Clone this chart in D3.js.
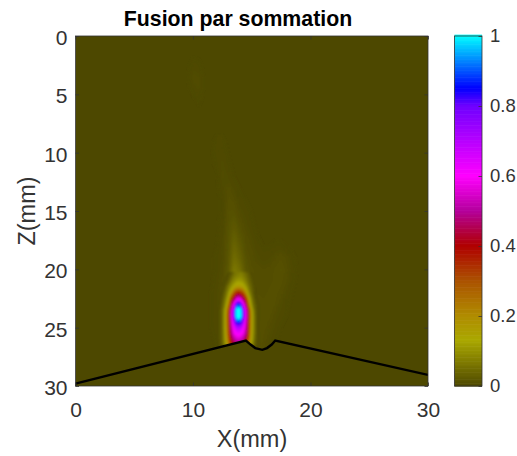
<!DOCTYPE html>
<html><head><meta charset="utf-8">
<script src="https://cdnjs.cloudflare.com/ajax/libs/d3/7.8.5/d3.min.js"></script>
<style>html,body{margin:0;padding:0;background:#fff}svg{display:block}text{font-family:"Liberation Sans",Arial,sans-serif}</style>
</head><body><svg id="c" width="517" height="456"></svg>
<script>
const titleText = "Fusion par sommation";
const xLabel = "X(mm)";
const zLabel = "Z(mm)";
const xTicks = [0, 10, 20, 30];
const zTicks = [0, 5, 10, 15, 20, 25, 30];
const barTicks = [0, 0.2, 0.4, 0.6, 0.8, 1];

// colormap stops
const cmapValues = [0, 0.06, 0.13, 0.2, 0.3, 0.4, 0.5, 0.6, 0.8, 0.85, 1];
const cmapColors = ["#4d4800", "#7a7500", "#aaa800", "#b08c00", "#ab5200", "#b00000", "#b4009c", "#ff00ff", "#6e00ff", "#0000ff", "#00ffff"];

// surface profile
const surfaceX = [0, 14.5, 14.9, 15.3, 15.9, 16.3, 16.7, 17, 30];
const surfaceZ = [29.8, 26.1, 26.45, 26.75, 26.9, 26.75, 26.45, 26.1, 29.05];

// faint plume, in percent of full scale
const plumeX = [11,11.5,12,12.5,13,13.5,14,14.5,15,15.5,16,16.5,17,17.5,18,18.5,19,19.5,20,20.5];
const plumeZ = [9,10,11,12,13,14,15,16,17,18,19,20,21,22,23,24,25,26,27];
const plumePct = [
[0,0,0.2,0.2,0,0,0,0,0,0,0,0,0,0,0,0,0,0,0,0],
[0,0,0.3,0.4,0.1,0,0,0,0,0,0,0,0,0,0,0,0,0,0,0],
[0,0,0.2,0.5,0.2,0,0,0,0,0,0,0,0,0,0,0,0,0,0,0],
[0,0,0,0.6,0.4,0.1,0,0,0,0,0,0,0,0,0,0,0,0,0,0],
[0,0,0,0.4,0.8,0.4,0.1,0,0,0,0,0,0,0,0,0,0,0,0,0],
[0,0,0,0.2,1,0.8,0.3,0.1,0,0,0,0,0,0,0,0,0,0,0,0],
[0,0,0,0.2,1.2,1.3,0.6,0.3,0.1,0,0,0,0,0,0,0,0,0,0,0],
[0,0,0,0.3,1.3,2,1,0.5,0.2,0,0,0,0,0,0,0,0,0,0,0],
[0,0,0,0.4,1.5,3,1.6,0.8,0.4,0.1,0,0,0,0,0,0,0,0,0,0],
[0,0,0.1,0.5,1.6,4,2.4,1,0.6,0.3,0.1,0.1,0.2,0.2,0.1,0,0,0,0,0],
[0,0,0.2,0.5,1.8,5,3.4,1.4,0.8,0.5,0.3,0.4,0.7,0.9,0.6,0.2,0,0,0,0],
[0,0,0.2,0.6,2,6.5,5,1.8,1,0.7,0.6,0.7,1,1.3,0.8,0.3,0,0,0,0],
[0,0,0.3,0.8,2.5,8.5,7,2.5,1.2,0.8,0.7,0.8,1,1,0.7,0.2,0,0,0,0],
[0,0.1,0.4,1,3,10,9,3.5,1.5,0.9,0.8,1,1,0.8,0.4,0.1,0,0,0,0],
[0,0.1,0.4,1,2.5,9,9,4,2,1.2,1,1.1,0.9,0.5,0.2,0,0,0,0,0],
[0,0.1,0.4,0.9,2,7,7,4,2.2,1.3,1.1,1,0.6,0.3,0.1,0,0,0,0,0],
[0,0.1,0.3,0.7,1.5,4,5,3.5,2.2,1.4,1.1,0.7,0.4,0.1,0,0,0,0,0,0],
[0,0,0.2,0.5,1,3,4,3.5,2.2,1.4,0.9,0.5,0.2,0,0,0,0,0,0,0],
[0,0,0.1,0.3,0.8,2,3,3,2,1.2,0.7,0.3,0.1,0,0,0,0,0,0,0]];

// main focal spot, in percent of full scale
const spotX = [12,12.25,12.5,12.75,13,13.25,13.5,13.75,14,14.25,14.5,14.75,15,15.25,15.5,15.75,16];
const spotZ = [20.5,21,21.5,22,22.5,23,23.5,24,24.5,25,25.5,26,26.5];
const spotPct = [
[0,0,0,0,1,3,6,7,8,7,5,3,1,0,0,0,0],
[0,0,0,1,2,6,9,11,11,10,7,4,2,0,0,0,0],
[0,0,0,2,6,10,14,17,17,15,11,6,3,1,0,0,0],
[0,0,1,4,9,17,28,36,36,30,19,9,4,1,0,0,0],
[0,0,2,6,13,30,43,56,56,46,33,14,6,2,0,0,0],
[0,0,3,8,19,41,62,86,86,64,44,21,8,3,1,0,0],
[0,1,4,12,28,52,78,104,104,80,56,32,13,4,1,0,0],
[0,1,4,13,30,54,80,106,106,82,58,34,14,5,1,0,0],
[0,1,4,13,30,52,72,88,88,74,54,32,14,5,1,0,0],
[0,1,4,13,29,50,63,70,70,64,52,31,14,5,1,0,0],
[0,1,4,12,28,47,58,62,62,58,49,30,13,5,1,0,0],
[0,1,4,11,25,42,50,54,54,50,42,26,12,4,1,0,0],
[0,1,3,9,20,34,42,46,46,42,34,20,9,3,1,0,0]];

// faint spot near the top
const faintX = [9.5,10,10.5,11];
const faintZ = [1.5,2.5,3.5,4.5,5.5];
const faintPct = [
[0,0,0,0],
[0,0.3,0.2,0],
[0,0.6,0.5,0],
[0,0.3,0.5,0],
[0,0,0.2,0]];

const ink = "#333333";
const svg = d3.select("#c");
const defs = svg.append("defs");
defs.append("filter").attr("id", "soft").attr("x", "-20%").attr("y", "-20%").attr("width", "140%").attr("height", "140%")
  .append("feGaussianBlur").attr("stdDeviation", 1);
const plot = {l: 75.5, r: 428, t: 36, b: 386};
const bar = {l: 454.5, r: 482, t: 36, b: 386};
const x = d3.scaleLinear().domain([0, 30]).range([plot.l, plot.r]);
const z = d3.scaleLinear().domain([0, 30]).range([plot.t, plot.b]);
const color = d3.scaleLinear().domain(cmapValues).range(cmapColors).clamp(true);
const barY = d3.scaleLinear().domain([0, 1]).range([bar.b, bar.t]);

defs.append("clipPath").attr("id", "pc").append("rect")
  .attr("x", plot.l).attr("y", plot.t).attr("width", plot.r - plot.l).attr("height", plot.b - plot.t);
const g = svg.append("g").attr("clip-path", "url(#pc)");
g.append("rect").attr("x", plot.l).attr("y", plot.t).attr("width", plot.r - plot.l).attr("height", plot.b - plot.t).attr("fill", color(0));
const heat = g.append("g").attr("filter", "url(#soft)");

function field(xs, zs, pct, maxV, step) {
  const n = xs.length, m = zs.length, dx = xs[1] - xs[0], dz = zs[1] - zs[0];
  const flat = pct.flat().map(v => v / 100);
  const th = d3.range(step, maxV + step, step);
  const cs = d3.contours().size([n, m]).thresholds(th)(flat);
  const path = d3.geoPath(d3.geoTransform({point(a, b) {
    this.stream.point(x(xs[0] + (a - 0.5) * dx), z(zs[0] + (b - 0.5) * dz));
  }}));
  heat.append("g").selectAll("path").data(cs).join("path")
    .attr("d", path).attr("fill", d => color(d.value));
}
field(plumeX, plumeZ, plumePct, 0.12, 0.001);
field(faintX, faintZ, faintPct, 0.01, 0.001);
field(spotX, spotZ, spotPct, 1.06, 0.004);

const pts = surfaceX.map((v, i) => [v, surfaceZ[i]]);
g.append("path").attr("fill", color(0))
  .attr("d", d3.area().x(d => x(d[0])).y0(plot.b).y1(d => z(d[1]))(pts));
g.append("path").attr("fill", "none").attr("stroke", "#000").attr("stroke-width", 2.4)
  .attr("d", d3.line().x(d => x(d[0])).y(d => z(d[1])).curve(d3.curveLinear)(pts));

function styleAxis(a, size) {
  a.select(".domain").remove();
  a.selectAll("line").attr("stroke", ink).attr("stroke-width", 0.8);
  a.selectAll("text").attr("fill", ink).attr("font-size", size);
}
const FS = 21;
svg.append("g").attr("transform", `translate(0,${plot.b})`)
  .call(d3.axisBottom(x).tickValues(xTicks).tickFormat(d3.format("d")).tickSizeInner(-3.5).tickPadding(16).tickSizeOuter(0))
  .call(a => styleAxis(a, FS));
svg.append("g").attr("transform", `translate(${plot.l},0)`)
  .call(d3.axisLeft(z).tickValues(zTicks).tickFormat(d3.format("d")).tickSizeInner(-3.5).tickPadding(8).tickSizeOuter(0))
  .call(a => styleAxis(a, FS))
  .call(a => a.selectAll("text").attr("dy", "0.41em"));
svg.append("g").attr("transform", `translate(0,${plot.t})`)
  .call(d3.axisTop(x).tickValues(xTicks).tickFormat("").tickSizeInner(-3.5).tickSizeOuter(0))
  .call(a => styleAxis(a, FS));
svg.append("g").attr("transform", `translate(${plot.r},0)`)
  .call(d3.axisRight(z).tickValues(zTicks).tickFormat("").tickSizeInner(-3.5).tickSizeOuter(0))
  .call(a => styleAxis(a, FS));
svg.append("rect").attr("x", plot.l).attr("y", plot.t).attr("width", plot.r - plot.l).attr("height", plot.b - plot.t)
  .attr("fill", "none").attr("stroke", ink).attr("stroke-width", 0.8);

// colour bar
const barSteps = d3.range(0, 256).map(i => i / 255);
svg.append("g").selectAll("rect").data(barSteps).join("rect")
  .attr("x", bar.l).attr("width", bar.r - bar.l)
  .attr("y", d => barY(d) - (bar.b - bar.t) / 256)
  .attr("height", (bar.b - bar.t) / 256 + 0.6)
  .attr("fill", d => color(d));
svg.append("g").attr("transform", `translate(${bar.r},0)`)
  .call(d3.axisRight(barY).tickValues(barTicks).tickFormat(d3.format("~g")).tickSizeInner(-3.5).tickPadding(8).tickSizeOuter(0))
  .call(a => styleAxis(a, 18.5));
svg.append("rect").attr("x", bar.l).attr("y", bar.t).attr("width", bar.r - bar.l).attr("height", bar.b - bar.t)
  .attr("fill", "none").attr("stroke", ink).attr("stroke-width", 0.8);

svg.append("text").text(titleText).attr("x", 238).attr("y", 26).attr("text-anchor", "middle")
  .attr("font-weight", "bold").attr("font-size", 21.3).attr("fill", "#000");
svg.append("text").text(xLabel).attr("x", 252).attr("y", 447).attr("text-anchor", "middle")
  .attr("font-size", 23.5).attr("fill", ink);
svg.append("text").text(zLabel).attr("transform", "translate(35,211) rotate(-90)").attr("text-anchor", "middle")
  .attr("font-size", 23.5).attr("fill", ink);
</script></body></html>
